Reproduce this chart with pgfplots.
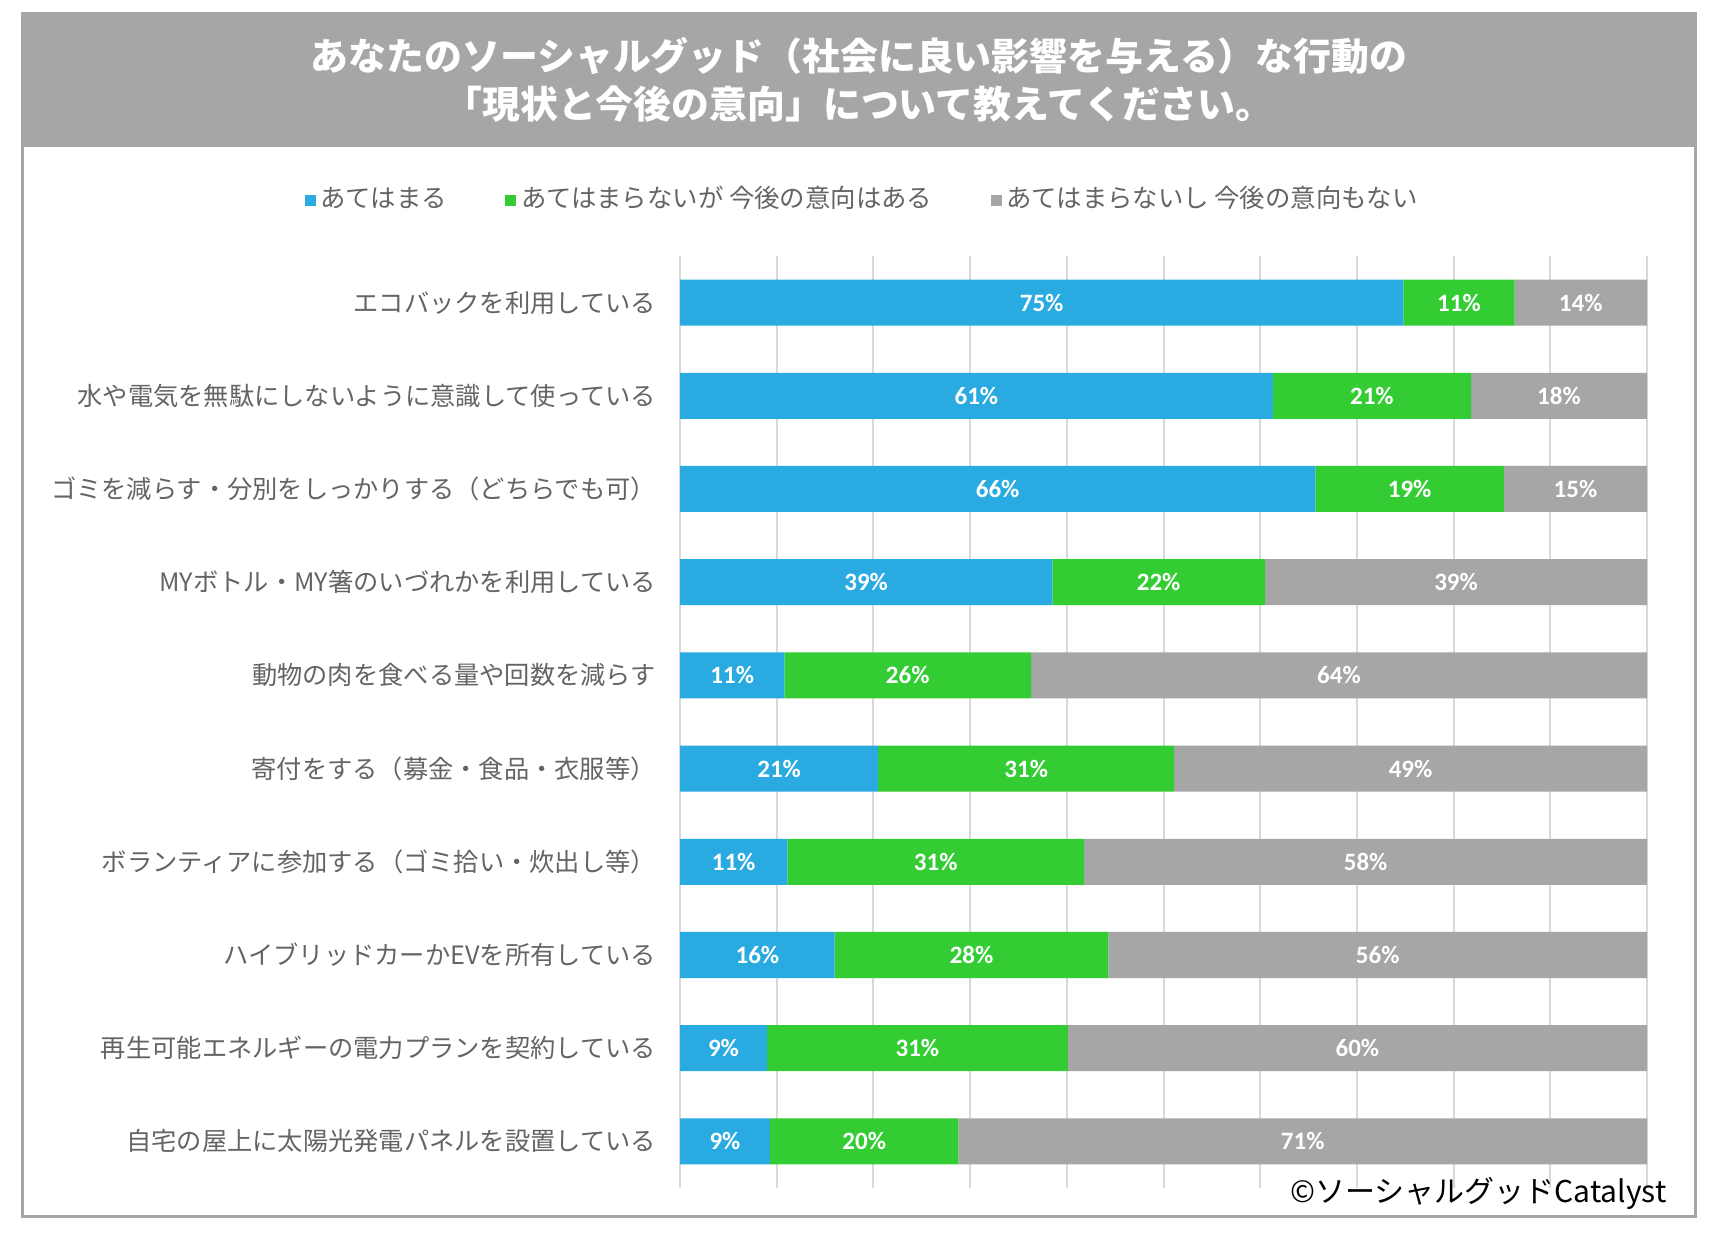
\documentclass[border=0pt]{standalone}
\usepackage{fontspec}
\setmainfont{Noto Sans CJK JP}
\newfontfamily\carlito{Carlito}
\usepackage{pgfplots}
\usepackage{pgfplotstable}
\pgfplotsset{compat=1.18}
\definecolor{cblue}{HTML}{29ABE2}
\definecolor{cgreen}{HTML}{33CC33}
\definecolor{cgray}{HTML}{A6A6A6}
\definecolor{lbl}{HTML}{646464}
\definecolor{gridc}{HTML}{D9D9D9}
\pgfplotstableread{
idx a la b lb c lc
0 74.8 75 11.5 11 13.7 14
1 61.3 61 20.5 21 18.2 18
2 65.7 66 19.5 19 14.8 15
3 38.5 39 22.0 22 39.5 39
4 10.8 11 25.5 26 63.7 64
5 20.5 21 30.6 31 48.9 49
6 11.1 11 30.7 31 58.2 58
7 16.0 16 28.3 28 55.7 56
8 9.0 9 31.1 31 59.9 60
9 9.3 9 19.5 20 71.2 71
}\data
\pgfplotsset{
  common/.style={
    at={(272pt,19.2pt)}, anchor=south west,
    scale only axis, width=386.8pt, height=372.8pt,
    xmin=0, xmax=100, ymin=-0.5, ymax=9.5, y dir=reverse,
  },
}
\begin{document}
\begin{tikzpicture}
\path[use as bounding box] (0,0) rectangle (688pt,494.4pt);
\fill[white] (0,0) rectangle (688pt,494.4pt);
\fill[cgray] (8.8pt,435.6pt) rectangle (678pt,488.8pt);
\draw[cgray, line width=1.2pt] (8.8pt,7.6pt) rectangle (678pt,488.8pt);
\node[text=white, font=\fontsize{15.15}{19.2}\selectfont\bfseries, align=center, inner sep=0pt] at (343.6pt,462.4pt) {あなたのソーシャルグッド（社会に良い影響を与える）な行動の\\「現状と今後の意向」について教えてください。};
\begin{axis}[
  common,
  xbar stacked, bar width=18.4pt,
  axis line style={draw=none},
  xtick={0,10,...,100}, xticklabels={},
  xmajorgrids, major grid style={gridc, line width=0.8pt},
  ytick={0,...,9}, major tick length=0pt,
  yticklabels={エコバックを利用している,水や電気を無駄にしないように意識して使っている,ゴミを減らす・分別をしっかりする（どちらでも可）,MYボトル・MY箸のいづれかを利用している,動物の肉を食べる量や回数を減らす,寄付をする（募金・食品・衣服等）,ボランティアに参加する（ゴミ拾い・炊出し等）,ハイブリッドカーかEVを所有している,再生可能エネルギーの電力プランを契約している,自宅の屋上に太陽光発電パネルを設置している},
  yticklabel style={font=\fontsize{10.1}{12}\selectfont, text=lbl, inner sep=0pt, xshift=-9.5pt},
  legend columns=3,
  legend entries={あてはまる,あてはまらないが 今後の意向はある,あてはまらないし 今後の意向もない},
  legend style={at={(0.19,1.061)}, anchor=center, draw=none, fill=none,
    font=\fontsize{10.15}{12}\selectfont, text=lbl,
    /tikz/every even column/.append style={column sep=21.5pt}},
  legend image code/.code={\fill[#1,draw=none] (0pt,-2.6pt) rectangle (4.4pt,1.8pt);},
]
\addplot[fill=cblue, draw=none] table[x=a,y=idx]{\data};
\addplot[fill=cgreen, draw=none] table[x=b,y=idx]{\data};
\addplot[fill=cgray, draw=none] table[x=c,y=idx]{\data};
\end{axis}
\begin{axis}[
  common, hide axis,
  point meta=explicit symbolic,
  nodes near coords={\pgfplotspointmeta\%},
  nodes near coords style={font=\carlito\fontsize{10}{12}\selectfont\bfseries, text=white, anchor=center, inner sep=0pt},
]
\addplot[draw=none, mark=none] table[x expr={\thisrow{a}/2}, y=idx, meta=la]{\data};
\addplot[draw=none, mark=none] table[x expr={\thisrow{a}+\thisrow{b}/2}, y=idx, meta=lb]{\data};
\addplot[draw=none, mark=none] table[x expr={\thisrow{a}+\thisrow{b}+\thisrow{c}/2}, y=idx, meta=lc]{\data};
\end{axis}
\node[anchor=east, inner sep=0pt, font=\fontsize{12}{14}\selectfont, text=black] at (666.8pt,17.2pt) {©ソーシャルグッドCatalyst};
\end{tikzpicture}
\end{document}
